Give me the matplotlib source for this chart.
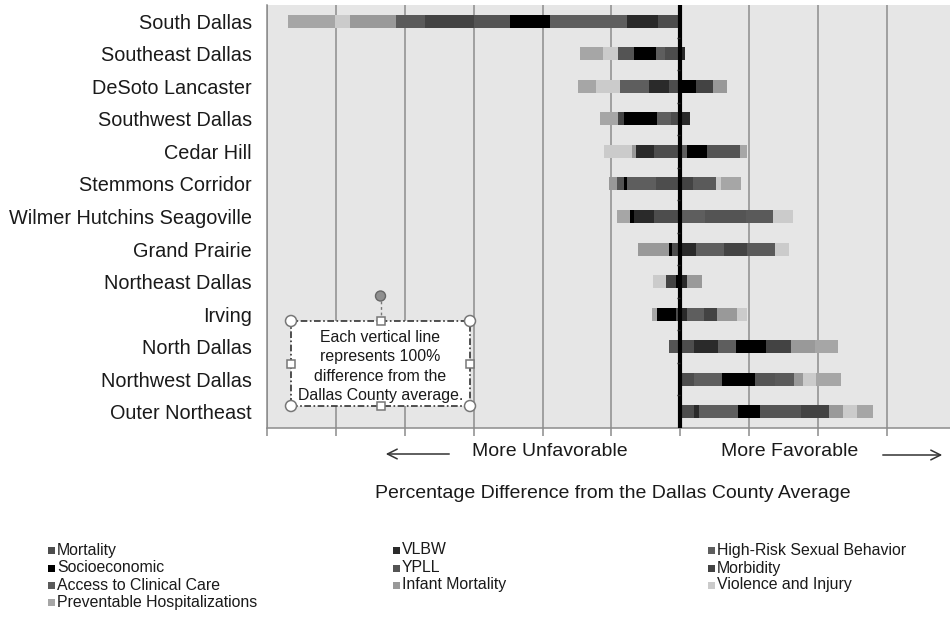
import numpy as np
import matplotlib
matplotlib.use("Agg")
import matplotlib.pyplot as plt
from matplotlib.patches import Rectangle, Circle
from matplotlib.lines import Line2D
from matplotlib.transforms import IdentityTransform

plt.rcParams['font.family'] = ['Liberation Sans', 'DejaVu Sans']

W, H = 950, 620

regions = ["South Dallas", "Southeast Dallas", "DeSoto Lancaster", "Southwest Dallas",
           "Cedar Hill", "Stemmons Corridor", "Wilmer Hutchins Seagoville", "Grand Prairie",
           "Northeast Dallas", "Irving", "North Dallas", "Northwest Dallas", "Outer Northeast"]

# Percentage difference from the county average for each indicator (per region)
mortality     = [-32, -22, -17, -14, -39, -36, -38, -12,   0,  -6,  20,  20,  20]
vlbw          = [-45,   7, -28,  14, -25,   0, -29,  22,   9,   9,  35,   0,   7]
high_risk     = [-112, -14, -43, -20, 10, -41,  36,  41,   0,  25,  26,  41,  57]
socioeconomic = [-58, -32,  22, -48,  29,  -5,  -6,  -4,  -7, -28,  43,  48,  32]
ypll          = [-52, -22,   0,   0,  48, -10,  59,   0,   0,   0, -16,  28,  59]
morbidity     = [-71,   0,  26,  -9,   0,  19,   0,  33, -14,  19,  36,   0,  41]
access        = [-43,   0,   0,   0,   0,  33,  39,  41,   0,   0,   0,  28,   0]
infant        = [-67,   0,  19,   0,  -6, -12,   0, -45,  23,  29,  36,  13,  20]
violence      = [-22, -23, -35,   0, -41,   7,  29,  20, -19,  14,   0,  19,  20]
preventable   = [-67, -32, -25, -26,   9,  29, -19,   0,   0,  -7,  33,  36,  23]

series_names = ["Mortality", "VLBW", "High-Risk Sexual Behavior", "Socioeconomic", "YPLL",
                "Morbidity", "Access to Clinical Care", "Infant Mortality",
                "Violence and Injury", "Preventable Hospitalizations"]
series_values = [mortality, vlbw, high_risk, socioeconomic, ypll, morbidity, access,
                 infant, violence, preventable]
series_colors = ["#4d4d4d", "#2a2a2a", "#5e5e5e", "#000000", "#545454",
                 "#434343", "#5a5a5a", "#999999", "#cbcbcb", "#a6a6a6"]

fig = plt.figure(figsize=(W / 100, H / 100), dpi=100)
fig.patch.set_facecolor("white")


def fig_xy(x, y):
    return x / W, 1 - y / H


def disp(x, y):
    return x, H - y


# plot area
ax_l, ax_r, ax_t, ax_b = 267, 950, 5, 428
ax = fig.add_axes([ax_l / W, 1 - ax_b / H, (ax_r - ax_l) / W, (ax_b - ax_t) / H])
ax.set_facecolor("#e6e6e6")

n = len(regions)
ypos = np.arange(n)
pos_base = np.zeros(n)
neg_base = np.zeros(n)
for name, vals, col in zip(series_names, series_values, series_colors):
    v = np.asarray(vals, dtype=float)
    left = np.where(v >= 0, pos_base, neg_base)
    ax.barh(ypos, v, left=left, height=0.4, color=col, linewidth=0, zorder=3)
    pos_base += np.clip(v, 0, None)
    neg_base += np.clip(v, None, 0)

ax.set_xlim(-600, (ax_r - 680) / 69 * 100)
ax.set_ylim(n - 0.5, -0.5)

grid_col = "#8c8c8c"
ax.set_xticks(np.arange(-600, 400, 100))
ax.set_xticklabels([])
ax.grid(axis="x", color=grid_col, linewidth=1.1, zorder=1)
ax.set_axisbelow(True)
ax.tick_params(axis="x", direction="out", length=6, width=1.1, color=grid_col)

ax.set_yticks(ypos)
ax.set_yticklabels(regions, fontsize=14.3, color="#1a1a1a")
ax.tick_params(axis="y", length=0, pad=11)

for side in ("top", "right"):
    ax.spines[side].set_visible(False)
for side in ("left", "bottom"):
    ax.spines[side].set_color(grid_col)
    ax.spines[side].set_linewidth(1.1)

# zero axis with category separators
ax.axvline(0, color="black", linewidth=3, zorder=6)
ax.hlines(np.arange(0.5, n - 0.5), -5, 0, color="#222222", linewidth=1, zorder=6)

# callout box
it = IdentityTransform()
bx0, by0, bx1, by1 = 291, 321, 470, 406
x0, y0 = disp(bx0, by1)
fig.patches.append(Rectangle((x0, y0), bx1 - bx0, by1 - by0, transform=it,
                             facecolor="white", edgecolor="#333333", linewidth=1.2,
                             linestyle=(0, (4, 1.5, 1, 1.5)), zorder=10))
cx, cy = (bx0 + bx1) / 2, (by0 + by1) / 2
fig.text(*fig_xy(cx, cy + 3), "Each vertical line\nrepresents 100%\ndifference from the\nDallas County average.",
         ha="center", va="center", fontsize=11.4, linespacing=1.36, color="#1a1a1a", zorder=11)
# selection handles
fig.lines.append(Line2D([cx, cx], [H - 301, H - 317], transform=it, color="#777777",
                        linewidth=1, linestyle=(0, (2, 2)), zorder=11))
fig.patches.append(Circle(disp(cx, 296), 5, transform=it, facecolor="#8f8f8f",
                          edgecolor="#666666", linewidth=1, zorder=12))
for hx, hy in [(bx0, by0), (bx1, by0), (bx0, by1), (bx1, by1)]:
    fig.patches.append(Circle(disp(hx, hy), 5.5, transform=it, facecolor="white",
                              edgecolor="#777777", linewidth=1.1, zorder=12))
for hx, hy in [(cx, by0), (cx, by1), (bx0, cy), (bx1, cy)]:
    sx, sy = disp(hx, hy)
    fig.patches.append(Rectangle((sx - 4, sy - 4), 8, 8, transform=it, facecolor="white",
                                 edgecolor="#777777", linewidth=1.1, zorder=12))

# direction labels
fig.text(*fig_xy(550, 451), "More Unfavorable", ha="center", va="center", fontsize=14, color="#1a1a1a")
fig.text(*fig_xy(790, 451), "More Favorable", ha="center", va="center", fontsize=14, color="#1a1a1a")
fig.add_artist(matplotlib.patches.FancyArrowPatch(
    fig_xy(452, 454), fig_xy(383, 454), transform=fig.transFigure,
    arrowstyle="->,head_length=7,head_width=3.5", color="#333333", linewidth=1.1))
fig.add_artist(matplotlib.patches.FancyArrowPatch(
    fig_xy(880, 455), fig_xy(945, 455), transform=fig.transFigure,
    arrowstyle="->,head_length=7,head_width=3.5", color="#333333", linewidth=1.1))

fig.text(*fig_xy(613, 494), "Percentage Difference from the Dallas County Average",
         ha="center", va="center", fontsize=14, color="#1a1a1a")

# legend laid out in three columns, filled row by row
col_x = [48, 393, 708]
row_y = [550, 568, 585, 602]
for i, (name, col) in enumerate(zip(series_names, series_colors)):
    r, c = divmod(i, 3)
    lx, ly = col_x[c], row_y[r]
    sx, sy = disp(lx, ly)
    fig.patches.append(Rectangle((sx, sy - 3.5), 7, 7, transform=it, facecolor=col,
                                 edgecolor="none", zorder=5))
    fig.text(*fig_xy(lx + 9, ly), name, ha="left", va="center", fontsize=11.4, color="#1a1a1a")

fig.savefig("out.png", dpi=100, facecolor="white")
